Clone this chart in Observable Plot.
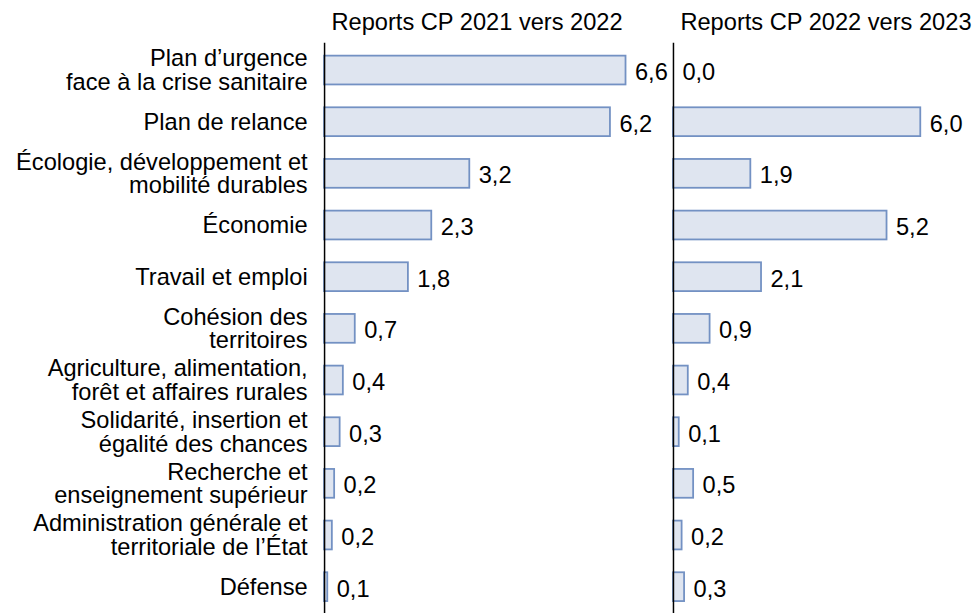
<!DOCTYPE html>
<html>
<head>
<meta charset="utf-8">
<script src="https://cdn.jsdelivr.net/npm/d3@7"></script>
<script src="https://cdn.jsdelivr.net/npm/@observablehq/plot@0.6"></script>
<style>
  html, body { margin: 0; padding: 0; background: #fff; }
  #chart { display: flex; flex-direction: row; width: 976px; height: 613px; overflow: hidden; }
  #chart svg { overflow: visible; display: block; }
</style>
</head>
<body>
<div id="chart"></div>
<script>
const categories = [
  "Plan d’urgence\nface à la crise sanitaire",
  "Plan de relance",
  "Écologie, développement et\nmobilité durables",
  "Économie",
  "Travail et emploi",
  "Cohésion des\nterritoires",
  "Agriculture, alimentation,\nforêt et affaires rurales",
  "Solidarité, insertion et\négalité des chances",
  "Recherche et\nenseignement supérieur",
  "Administration générale et\nterritoriale de l’État",
  "Défense"
];
const values2122 = [6.58, 6.24, 3.17, 2.34, 1.83, 0.67, 0.41, 0.34, 0.22, 0.17, 0.07];
const values2223 = [0.0, 6.01, 1.88, 5.19, 2.14, 0.89, 0.36, 0.14, 0.49, 0.21, 0.27];
const titles = ["Reports CP 2021 vers 2022", "Reports CP 2022 vers 2023"];

const fmt = v => v.toFixed(1).replace(".", ",");
const fontSize = 23.8;
const style = {fontFamily: "'Liberation Sans', Arial, sans-serif", fontSize: fontSize + "px", color: "#000", background: "#fff", overflow: "visible"};

function panel(values, title, opts) {
  const data = categories.map((c, i) => ({cat: c, v: values[i], label: fmt(values[i])}));
  const marks = [
    Plot.barX(data, {x: "v", y: "cat", fill: "#dfe5f0", stroke: "#7391c3", strokeWidth: 1.8}),
    Plot.ruleX([0], {stroke: "#000", strokeWidth: 1.5}),
    Plot.text(data, {x: "v", y: "cat", text: "label", textAnchor: "start", dx: 9, dy: 2, fontSize, fill: "#000"}),
    Plot.text([title], {frameAnchor: "top-left", text: d => d, textAnchor: "start", lineAnchor: "bottom", dx: 7, dy: -13, fontSize, fill: "#000"})
  ];
  if (opts.showY) {
    marks.push(Plot.axisY({tickSize: 0, tickPadding: 17, lineHeight: 1.0, fontSize, fill: "#000", label: null, tickFormat: d => d}));
  }
  return Plot.plot({
    width: opts.width,
    height: 617,
    marginTop: 43,
    marginBottom: 0,
    marginLeft: opts.marginLeft,
    marginRight: 0,
    style,
    x: {domain: [0, opts.xmax], axis: null},
    y: {domain: categories, paddingInner: 0.445, paddingOuter: 0.21, axis: null, label: null},
    marks
  });
}

const chart = document.getElementById("chart");
chart.append(panel(values2122, titles[0], {width: 668, marginLeft: 324, xmax: 7.46, showY: true}));
chart.append(panel(values2223, titles[1], {width: 308, marginLeft: 4, xmax: 7.34, showY: false}));
</script>
</body>
</html>
